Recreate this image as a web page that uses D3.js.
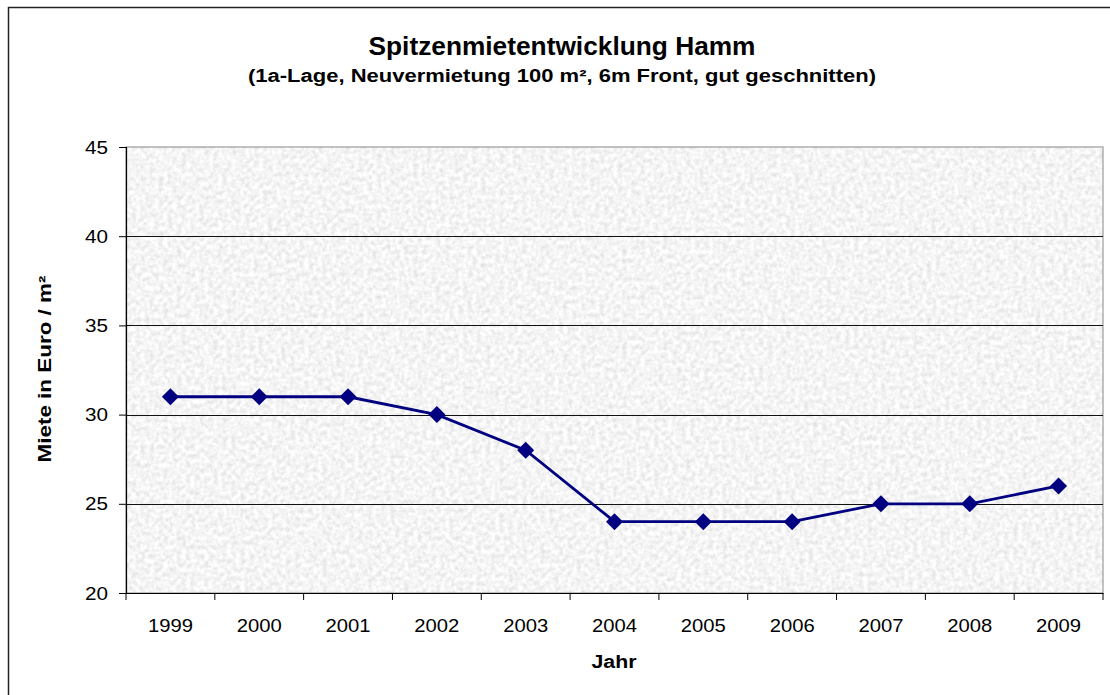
<!DOCTYPE html>
<html><head><meta charset="utf-8">
<script src="https://cdn.jsdelivr.net/npm/d3@7"></script>
<style>body{margin:0;background:#fff;} svg{display:block;font-family:"Liberation Sans",Arial,sans-serif;}</style>
</head><body>
<script>
const years = ["1999","2000","2001","2002","2003","2004","2005","2006","2007","2008","2009"];
const rents = [31,31,31,30,28,24,24,24,25,25,26];
const yTicks = [20,25,30,35,40,45];
const title = "Spitzenmietentwicklung Hamm";
const subtitle = "(1a-Lage, Neuvermietung 100 m², 6m Front, gut geschnitten)";
const xTitle = "Jahr";
const yTitle = "Miete in Euro / m²";

const W = 1110, H = 695;
const svg = d3.select("body").append("svg").attr("width", W).attr("height", H);

const defs = svg.append("defs");
const f = defs.append("filter").attr("id","granite").attr("x",0).attr("y",0).attr("width","100%").attr("height","100%");
f.append("feTurbulence").attr("type","fractalNoise").attr("baseFrequency",0.22).attr("numOctaves",3).attr("seed",4).attr("result","n");
f.append("feColorMatrix").attr("in","n").attr("type","matrix")
  .attr("values","0.42 0 0 0 0.70  0.42 0 0 0 0.70  0.42 0 0 0 0.70  0 0 0 0 1");

// outer border
svg.append("rect").attr("x",8.5).attr("y",7.5).attr("width",1120).attr("height",720)
  .attr("fill","none").attr("stroke","#222").attr("stroke-width",1.5);

const L = 126, R = 1103, T = 147, B = 593;
const x = d3.scaleBand().domain(years).range([L, R]);
const y = d3.scaleLinear().domain([20,45]).range([B, T]);

// plot background
svg.append("rect").attr("x",L).attr("y",T).attr("width",R-L).attr("height",B-T).attr("filter","url(#granite)");
svg.append("rect").attr("x",L).attr("y",T).attr("width",R-L).attr("height",B-T).attr("fill","none").attr("stroke","#888").attr("stroke-width",1);

// gridlines
svg.append("g").selectAll("line").data(yTicks.filter(d=>d>20 && d<45)).join("line")
  .attr("x1",L).attr("x2",R).attr("y1",d=>Math.round(y(d))+0.5).attr("y2",d=>Math.round(y(d))+0.5)
  .attr("stroke","#111").attr("stroke-width",1);

// y axis
const ya = svg.append("g").attr("transform",`translate(${L},0)`)
  .call(d3.axisLeft(y).tickValues(yTicks).tickSize(7).tickPadding(11));
ya.select(".domain").attr("stroke","#000").attr("stroke-width",1.2);
ya.selectAll("text").attr("font-size",19).attr("fill","#000").attr("font-family","Liberation Sans, Arial, sans-serif")
  .attr("textLength",23).attr("lengthAdjust","spacingAndGlyphs");

// x axis
const xa = svg.append("g").attr("transform",`translate(0,${B})`)
  .call(d3.axisBottom(x).tickSize(0).tickPadding(35));
xa.select(".domain").attr("stroke","#000").attr("stroke-width",1.2);
xa.selectAll("text").attr("font-size",19).attr("fill","#000").attr("font-family","Liberation Sans, Arial, sans-serif")
  .attr("dy","0.2em").attr("textLength",45).attr("lengthAdjust","spacingAndGlyphs");
const bounds = years.map(d=>x(d)).concat([R]);
svg.append("g").selectAll("line").data(bounds).join("line")
  .attr("x1",d=>d).attr("x2",d=>d).attr("y1",B).attr("y2",B+7).attr("stroke","#000");

// line
const cx = d => x(d) + x.bandwidth()/2;
svg.append("path").datum(rents.map((v,i)=>[years[i],v]))
  .attr("d", d3.line().x(d=>cx(d[0])).y(d=>y(d[1])))
  .attr("fill","none").attr("stroke","#000080").attr("stroke-width",2.8);
svg.append("g").selectAll("path").data(rents.map((v,i)=>[years[i],v])).join("path")
  .attr("d","M0,-8.5L8.5,0L0,8.5L-8.5,0Z")
  .attr("transform",d=>`translate(${cx(d[0])},${y(d[1])})`)
  .attr("fill","#000080");

// titles
const tt = (t, xx, yy, fs, len) => svg.append("text").attr("x",xx).attr("y",yy).attr("text-anchor","middle")
  .attr("font-size",fs).attr("font-weight","bold").attr("textLength",len).attr("lengthAdjust","spacingAndGlyphs").text(t);
tt(title, 562, 55, 25, 387);
tt(subtitle, 562, 82, 18, 628);
tt(xTitle, 614, 668, 18, 45);
svg.append("text").attr("transform","translate(51,369) rotate(-90)").attr("text-anchor","middle")
  .attr("font-size",18).attr("font-weight","bold").attr("textLength",187).attr("lengthAdjust","spacingAndGlyphs").text(yTitle);
</script>
</body></html>
